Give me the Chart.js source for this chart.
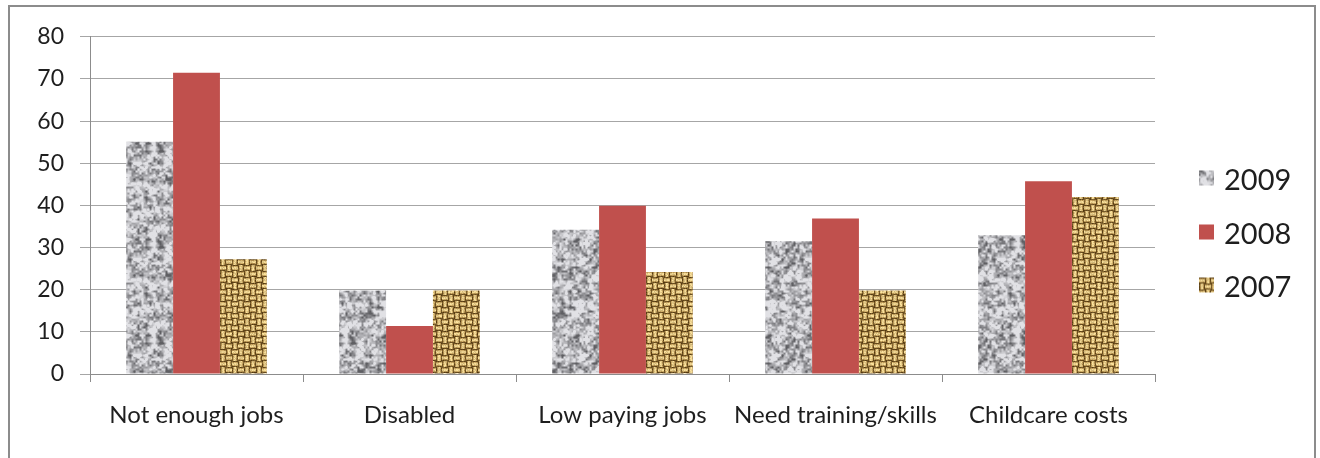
<!DOCTYPE html>
<html lang="en">
<head>
<meta charset="UTF-8">
<title>Barriers to employment</title>
<script src="https://cdn.jsdelivr.net/npm/chart.js"></script>
<style>
    body { margin: 0; background: #fff; width: 1320px; height: 458px; overflow: hidden; position: relative; font-family: Lato, sans-serif; }
    #frame { position: absolute; left: 8px; top: 5px; width: 1304px; height: 460px; border: 2px solid #8c8c8c; border-bottom: none; }
    #wrap { position: absolute; left: 10px; top: 7px; width: 1304px; height: 451px; }
    .legend { position: absolute; left: 1199px; font-size: 29px; color: #1e1e1e; }
    .leg-item { position: absolute; left: 0; display: flex; align-items: center; gap: 10px; white-space: nowrap; transform: translateY(-50%); }
    .leg-item canvas { width: 15px; height: 15px; display: block; }
</style>
</head>
<body>
<div id="frame"></div>
<div id="wrap"><canvas id="chart"></canvas></div>
<div class="legend" id="legend"></div>

<script>
const categories = ['Not enough jobs', 'Disabled', 'Low paying jobs', 'Need training/skills', 'Childcare costs'];
const years = ['2009', '2008', '2007'];
const values2009 = [55.1, 19.8, 34.2, 31.5, 32.9];
const values2008 = [71.5, 11.4, 39.9, 36.9, 45.7];
const values2007 = [27.2, 19.8, 24.2, 19.8, 42.0];
const yTicks = [0, 10, 20, 30, 40, 50, 60, 70, 80];

// seeded generator, only used for the fill textures
function seeded(a) {
    return function () {
        a |= 0; a = a + 0x6D2B79F5 | 0;
        let t = Math.imul(a ^ a >>> 15, 1 | a);
        t = t + Math.imul(t ^ t >>> 7, 61 | t) ^ t;
        return ((t ^ t >>> 14) >>> 0) / 4294967296;
    };
}

function makeTile(size, pixelFn) {
    const c = document.createElement('canvas');
    c.width = size; c.height = size;
    const g = c.getContext('2d');
    const img = g.createImageData(size, size);
    for (let y = 0; y < size; y++) {
        for (let x = 0; x < size; x++) {
            const [r, gg, b] = pixelFn(x, y);
            const i = (y * size + x) * 4;
            img.data[i] = r; img.data[i + 1] = gg; img.data[i + 2] = b; img.data[i + 3] = 255;
        }
    }
    g.putImageData(img, 0, 0);
    return c;
}

// granite-like grey
function greyTile() {
    const size = 96, rnd = seeded(7);
    function grid(n) {
        const a = [];
        for (let i = 0; i < n * n; i++) a.push(rnd());
        return (x, y) => {
            const fx = x / size * n, fy = y / size * n;
            const x0 = Math.floor(fx), y0 = Math.floor(fy);
            const tx = fx - x0, ty = fy - y0;
            const v = (i, j) => a[((j % n) * n) + (i % n)];
            const top = v(x0, y0) * (1 - tx) + v(x0 + 1, y0) * tx;
            const bot = v(x0, y0 + 1) * (1 - tx) + v(x0 + 1, y0 + 1) * tx;
            return top * (1 - ty) + bot * ty;
        };
    }
    const coarse = grid(24), fine = grid(48);
    return makeTile(size, (x, y) => {
        let v = coarse(x, y) * 0.55 + fine(x, y) * 0.45;
        let g = 182 + (v - 0.5) * 260;
        g = Math.max(95, Math.min(225, g));
        return [g, g, g + 4];
    });
}

// woven burlap
function burlapTile() {
    const size = 48, cell = 6, rnd = seeded(21);
    const light = [232, 206, 140], mid = [190, 156, 90], dark = [108, 80, 34];
    return makeTile(size, (x, y) => {
        const i = Math.floor(x / cell), j = Math.floor(y / cell);
        const u = x % cell, v = y % cell;
        const k = (i + j) % 2 === 0 ? v : u;
        let col = (k === 0 || k === 5) ? dark : (k === 2 || k === 3 ? light : mid);
        const n = (rnd() - 0.5) * 50;
        return [col[0] + n, col[1] + n, col[2] + n * 0.8];
    });
}

const ctx = document.getElementById('chart').getContext('2d');
const greyFill = ctx.createPattern(greyTile(), 'repeat');
const burlapFill = ctx.createPattern(burlapTile(), 'repeat');
const fills = [greyFill, '#c0504d', burlapFill];
const series = [values2009, values2008, values2007];

new Chart(ctx, {
    type: 'bar',
    data: {
        labels: categories,
        datasets: years.map((y, i) => ({
            label: y,
            data: series[i],
            backgroundColor: fills[i],
            borderWidth: 0,
            categoryPercentage: 0.66,
            barPercentage: 1.0
        }))
    },
    options: {
        responsive: true,
        maintainAspectRatio: false,
        animation: false,
        layout: { padding: { top: 28, right: 159, left: 0, bottom: 0 } },
        plugins: { legend: { display: false }, tooltip: { enabled: false } },
        scales: {
            x: {
                afterFit: s => { s.height = 84; },
                grid: { drawOnChartArea: false, drawTicks: true, tickLength: 8, color: '#8c8c8c', offset: true },
                border: { color: '#8c8c8c', width: 1 },
                ticks: { color: '#1e1e1e', font: { family: 'Lato', size: 24 }, padding: 19, maxRotation: 0, autoSkip: false }
            },
            y: {
                min: yTicks[0],
                max: yTicks[yTicks.length - 1],
                afterFit: s => { s.width = 80; },
                afterBuildTicks: s => { s.ticks = yTicks.map(v => ({ value: v })); },
                grid: { color: '#a6a6a6', tickLength: 10, lineWidth: 1 },
                border: { color: '#8c8c8c', width: 1 },
                ticks: { color: '#1e1e1e', font: { family: 'Lato', size: 23 }, padding: 16 }
            }
        }
    }
});

// legend
const legend = document.getElementById('legend');
const legendY = [178, 232, 285];
years.forEach((y, i) => {
    const item = document.createElement('div');
    item.className = 'leg-item';
    item.style.top = legendY[i] + 'px';
    const sw = document.createElement('canvas');
    sw.width = 15; sw.height = 15;
    const g = sw.getContext('2d');
    g.fillStyle = (i === 1) ? fills[i] : g.createPattern(i === 0 ? greyTile() : burlapTile(), 'repeat');
    g.fillRect(0, 0, 15, 15);
    item.appendChild(sw);
    const t = document.createElement('span');
    t.textContent = y;
    item.appendChild(t);
    legend.appendChild(item);
});
</script>
</body>
</html>
